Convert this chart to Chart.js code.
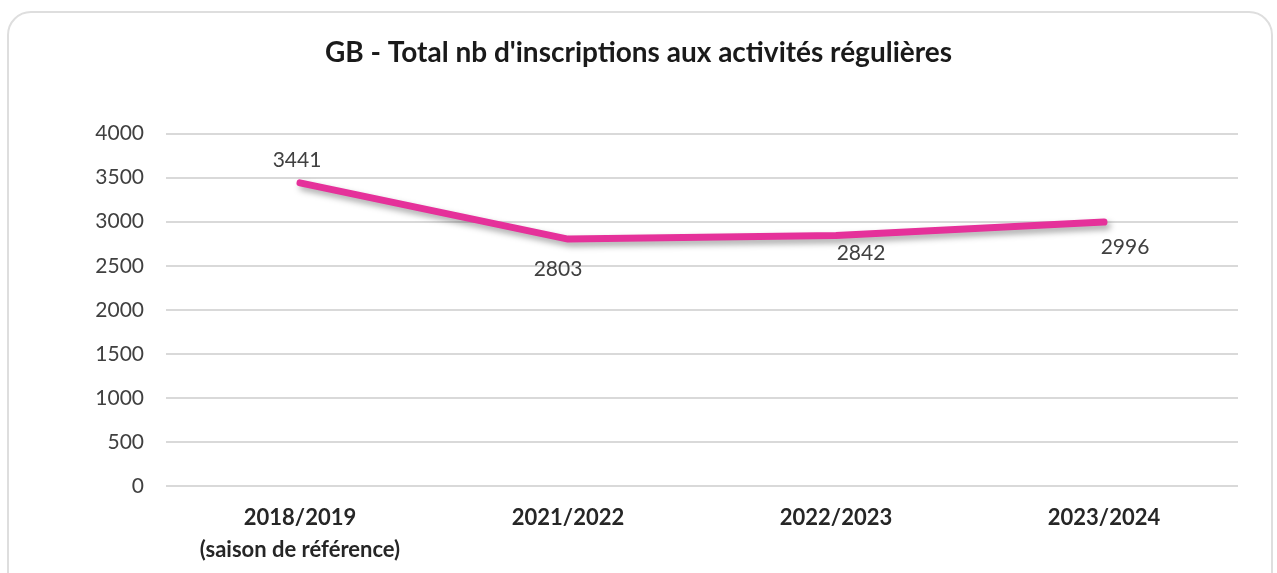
<!DOCTYPE html>
<html>
<head>
<meta charset="utf-8">
<script src="https://cdn.jsdelivr.net/npm/chart.js@4.4.0/dist/chart.umd.min.js"></script>
<style>
  body { margin: 0; background: #fff; }
  #wrap { position: relative; width: 1277px; height: 573px; overflow: hidden; }
  #card {
    position: absolute; left: 7px; top: 11px; width: 1266px; height: 620px;
    border: 2px solid #dedede; border-radius: 24px; box-sizing: border-box;
  }
  #box { position: absolute; left: 0; top: 0; width: 1277px; height: 573px; }
</style>
</head>
<body>
<div id="wrap">
  <div id="card"></div>
  <div id="box"><canvas id="InscriptionsStats"></canvas></div>
</div>
<script>
//
//
// Data
var seasons = [['2018/2019', '(saison de référence)'], '2021/2022', '2022/2023', '2023/2024'];
var inscriptions = [3441, 2803, 2842, 2996];
var y_ticks = [0, 500, 1000, 1500, 2000, 2500, 3000, 3500, 4000];

//
//
// Label offsets (Excel puts them here and there)
var label_offsets = [[-3, -23], [-10, 30], [25, 18], [21, 25]];

var fontFamily = 'Lato, "Open Sans", sans-serif';

//
// Shadow under the line + value labels
var lineDeco = {
  id: 'lineDeco',
  beforeDatasetsDraw: function(chart){
    var ctx = chart.ctx;
    ctx.save();
    ctx.shadowColor = 'rgba(0, 0, 0, 0.35)';
    ctx.shadowBlur = 6;
    ctx.shadowOffsetX = 3;
    ctx.shadowOffsetY = 4;
  },
  afterDatasetsDraw: function(chart){
    var ctx = chart.ctx;
    ctx.restore();

    var meta = chart.getDatasetMeta(0);
    ctx.save();
    ctx.font = '21px ' + fontFamily;
    ctx.fillStyle = '#404040';
    ctx.textAlign = 'center';
    ctx.textBaseline = 'middle';
    meta.data.forEach(function(pt, i){
      var off = label_offsets[i];
      ctx.fillText(String(inscriptions[i]), pt.x + off[0], pt.y + off[1]);
    });
    ctx.restore();
  }
};

var canvas = document.getElementById('InscriptionsStats');
var ctx = canvas.getContext('2d');

new Chart(ctx, {
  type: 'line',
  data: {
    labels: seasons,
    datasets: [{
      data: inscriptions,
      borderColor: '#E5319A',
      borderWidth: 7,
      borderCapStyle: 'round',
      borderJoinStyle: 'round',
      pointRadius: 0,
      fill: false,
      tension: 0
    }]
  },
  options: {
    responsive: true,
    maintainAspectRatio: false,
    animation: false,
    layout: {
      padding: { left: 39, right: 39, top: 0, bottom: 0 }
    },
    plugins: {
      legend: { display: false },
      tooltip: { enabled: false },
      title: {
        display: true,
        text: "GB - Total nb d'inscriptions aux activités régulières",
        color: '#1a1a1a',
        font: { family: fontFamily, size: 28, weight: 'bold', lineHeight: 1.2 },
        padding: { top: 36, bottom: 64 }
      }
    },
    scales: {
      x: {
        offset: true,
        grid: { display: false, drawTicks: false },
        border: { display: false },
        ticks: {
          color: '#262626',
          font: { family: fontFamily, size: 22, weight: 'bold', lineHeight: 1.45 },
          padding: 16,
          maxRotation: 0,
          autoSkip: false
        },
        afterFit: function(scale){ scale.height = 87; }
      },
      y: {
        min: 0,
        max: 4000,
        afterBuildTicks: function(scale){
          scale.ticks = y_ticks.map(function(v){ return { value: v }; });
        },
        grid: { color: '#d9d9d9', lineWidth: 2, drawTicks: false },
        border: { display: false },
        ticks: {
          color: '#404040',
          font: { family: fontFamily, size: 21 },
          padding: 22,
          callback: function(v){ return String(v); }
        },
        afterFit: function(scale){ scale.width = 127; }
      }
    }
  },
  plugins: [lineDeco]
});
</script>
</body>
</html>
